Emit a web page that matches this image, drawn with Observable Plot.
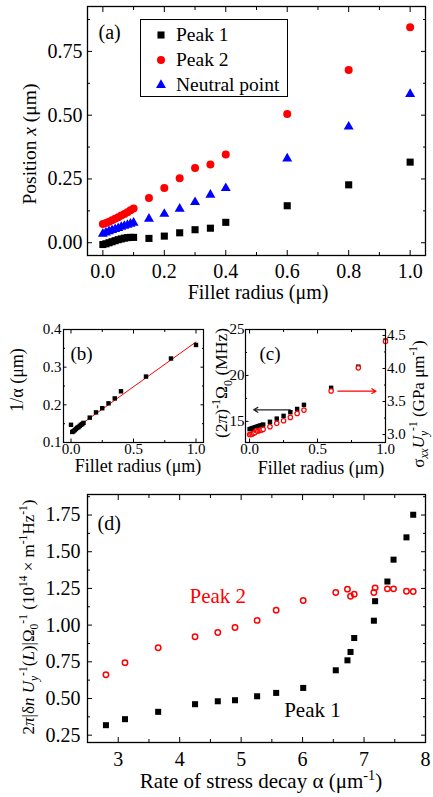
<!DOCTYPE html>
<html><head><meta charset="utf-8">
<script src="https://cdn.jsdelivr.net/npm/d3@7"></script>
<script src="https://cdn.jsdelivr.net/npm/@observablehq/plot@0.6"></script>
<style>
body{margin:0;background:#fff;}
#root{position:relative;width:433px;height:797px;overflow:hidden;font-family:"Liberation Serif","Times New Roman",serif;color:#000;}
.p{position:absolute;}
.lbl{position:absolute;white-space:nowrap;transform:translate(-50%,-50%);line-height:1;}
.rot{transform:translate(-50%,-50%) rotate(-90deg);}
sup,sub{font-size:0.68em;line-height:0;}
.legend{position:absolute;border:1px solid #000;background:#fff;box-sizing:border-box;}
</style></head><body><div id="root"></div>
<script>
// ---------- Panel (a) data ----------
const filletA = [0,0.01,0.02,0.03,0.04,0.05,0.06,0.07,0.08,0.09,0.1,0.15,0.2,0.25,0.3,0.35,0.4,0.6,0.8,1.0];
const peak1A = [-0.007,-0.004,0.000,0.004,0.008,0.012,0.015,0.018,0.020,0.021,0.021,0.017,0.026,0.039,0.051,0.057,0.080,0.145,0.227,0.316];
const peak2A = [0.073,0.077,0.082,0.088,0.094,0.100,0.107,0.113,0.120,0.127,0.134,0.175,0.215,0.253,0.293,0.307,0.346,0.505,0.677,0.845];
const neutralA = [0.035,0.040,0.045,0.049,0.053,0.057,0.062,0.066,0.070,0.074,0.078,0.094,0.113,0.133,0.159,0.188,0.214,0.330,0.455,0.583];
const aXTicks = [0,0.2,0.4,0.6,0.8,1.0], aXMinor = [0.1,0.3,0.5,0.7,0.9];
const aYTicks = [0,0.25,0.5,0.75], aYMinor = [0.125,0.375,0.625,0.875];
const legendA = ["Peak 1","Peak 2","Neutral point"];

// ---------- Panel (b) data ----------
const filletB = filletA;
const invAlphaB = [0.147,0.128,0.130,0.133,0.136,0.139,0.141,0.144,0.147,0.149,0.152,0.166,0.180,0.191,0.204,0.217,0.236,0.275,0.323,0.359];
const fitRadiusB = [0, 1.0], fitValueB = [0.129, 0.367];
const bXTicks = [0,0.5,1.0], bXMinor = [0.25,0.75];
const bYTicks = [0.1,0.2,0.3,0.4], bYMinor = [0.15,0.25,0.35];

// ---------- Panel (c) data ----------
const filletC = filletA;
const freqC = [14.15,14.2,14.25,14.3,14.35,14.4,14.45,14.5,14.55,14.6,14.65,14.95,15.3,15.6,16.0,16.35,16.8,18.65,20.95,23.8];
const stressC = [3.00,3.00,3.01,3.02,3.03,3.06,3.05,3.06,3.07,3.07,3.08,3.12,3.17,3.21,3.26,3.32,3.37,3.66,4.01,4.41];
const cXTicks = [0,0.5,1.0], cXMinor = [0.25,0.75];
const cYTicks = [15,20,25], cYMinor = [17.5,22.5];
const cRTicks = [3.0,3.5,4.0,4.5], cRMinor = [3.25,3.75,4.25];
const arrowFromC = [0.3, 0.65], arrowToC = [0.03, 0.93], arrowLevelC = [16.26, 18.29], arrowColorC = ["#222", "#ff0000"];

// ---------- Panel (d) data ----------
const alphaD = [2.80,3.11,3.65,4.25,4.62,4.90,5.26,5.57,6.01,6.54,6.73,6.78,6.84,7.16,7.18,7.38,7.48,7.69,7.80];
const peak1D = [0.318,0.359,0.409,0.461,0.481,0.488,0.515,0.538,0.572,0.692,0.760,0.817,0.912,1.030,1.163,1.297,1.446,1.598,1.752];
const peak2D = [0.662,0.744,0.846,0.921,0.950,0.984,1.032,1.102,1.168,1.222,1.245,1.197,1.211,1.222,1.254,1.247,1.247,1.231,1.229];
const dXTicks = [3,4,5,6,7,8], dXMinor = [3.5,4.5,5.5,6.5,7.5];
const dYTicks = [0.25,0.5,0.75,1.0,1.25,1.5,1.75], dYMinor = [0.375,0.625,0.875,1.125,1.375,1.625,1.875];
const dAnnot = [{x: 4.62, y: 1.195, t: "Peak 2", c: "#ff0000"}, {x: 6.16, y: 0.418, t: "Peak 1", c: "#000"}];

const RED = "#ff0000", BLUE = "#0000ff";
const root = document.getElementById("root");
const blank = () => "";

function inwardAxes({xTicks, xMinor, yTicks, yMinor, xFmt, yFmt, major, minor, padX, padY, mirrorY = true}) {
  const m = [
    Plot.axisX({anchor: "bottom", ticks: xTicks, tickSize: -major, tickPadding: major + padX, tickFormat: xFmt, label: null}),
    Plot.axisX({anchor: "bottom", ticks: xMinor, tickSize: -minor, tickFormat: blank, label: null}),
    Plot.axisX({anchor: "top", ticks: xTicks, tickSize: -major, tickFormat: blank, label: null}),
    Plot.axisX({anchor: "top", ticks: xMinor, tickSize: -minor, tickFormat: blank, label: null}),
    Plot.axisY({anchor: "left", ticks: yTicks, tickSize: -major, tickPadding: major + padY, tickFormat: yFmt, label: null}),
    Plot.axisY({anchor: "left", ticks: yMinor, tickSize: -minor, tickFormat: blank, label: null})
  ];
  if (mirrorY) m.push(
    Plot.axisY({anchor: "right", ticks: yTicks, tickSize: -major, tickFormat: blank, label: null}),
    Plot.axisY({anchor: "right", ticks: yMinor, tickSize: -minor, tickFormat: blank, label: null})
  );
  return m;
}

function place(svg, left, top) {
  svg.style.position = "absolute";
  svg.style.left = left + "px";
  svg.style.top = top + "px";
  root.appendChild(svg);
}
function label(html, cx, cy, size, rot, color) {
  const d = document.createElement("div");
  d.className = "lbl" + (rot ? " rot" : "");
  d.style.left = cx + "px"; d.style.top = cy + "px";
  d.style.fontSize = size + "px";
  if (color) d.style.color = color;
  d.innerHTML = html;
  root.appendChild(d);
}
const baseStyle = (fs) => ({fontFamily: "'Liberation Serif','Times New Roman',serif", fontSize: fs + "px", background: "transparent", overflow: "visible", color: "#000"});

// ---------- Panel (a) ----------
const dataA = filletA.map((r, i) => ({r, p1: peak1A[i], p2: peak2A[i], n: neutralA[i]}));
const plotA = Plot.plot({
  width: 433, height: 305, marginLeft: 87, marginRight: 8, marginTop: 6, marginBottom: 50,
  style: baseStyle(20),
  x: {domain: [-0.05, 1.05]},
  y: {domain: [-0.05, 0.926]},
  marks: [
    ...inwardAxes({xTicks: aXTicks, xMinor: aXMinor, yTicks: aYTicks, yMinor: aYMinor, xFmt: d3.format(".1f"), yFmt: d3.format(".2f"), major: 5, minor: 3, padX: 8, padY: 5}),
    Plot.dot(dataA, {x: "r", y: "p1", symbol: "square", fill: "#000", r: 4}),
    Plot.dot(dataA, {x: "r", y: "p2", symbol: "circle", fill: RED, r: 4}),
    Plot.dot(dataA, {x: "r", y: "n", symbol: "triangle", fill: BLUE, r: 3.7}),
    Plot.text(["(a)"], {frameAnchor: "top-left", dx: 11, dy: 18, fontSize: 20, textAnchor: "start"}),
    Plot.frame({stroke: "#000", strokeWidth: 1.3})
  ]
});
place(plotA, 0, 0);
label("Position <i>x</i> (μm)", 30, 144, 19.5, true);
label("Fillet radius (μm)", 258, 292, 20);

// legend (a)
const lg = document.createElement("div");
lg.className = "legend";
Object.assign(lg.style, {left: "140px", top: "19px", width: "148px", height: "78px"});
root.appendChild(lg);
const legendSymbols = [[d3.symbolSquare, "#000", 4], [d3.symbolCircle, RED, 4], [d3.symbolTriangle, BLUE, 3.7]];
legendA.forEach((name, i) => {
  const s = d3.create("svg").attr("width", 14).attr("height", 14)
    .style("position", "absolute").style("left", "13px").style("top", (8 + 25 * i) + "px").style("overflow", "visible");
  const [sym, col, r] = legendSymbols[i];
  s.append("path").attr("transform", "translate(7,7)").attr("d", d3.symbol(sym, r * r * Math.PI)()).attr("fill", col);
  lg.appendChild(s.node());
  const t = document.createElement("div");
  Object.assign(t.style, {position: "absolute", left: "35px", top: (15 + 25 * i) + "px", transform: "translateY(-50%)", fontSize: "19.5px", whiteSpace: "nowrap", lineHeight: "1"});
  t.textContent = name;
  lg.appendChild(t);
});

// ---------- Panel (b) ----------
const dataB = filletB.map((r, i) => ({r, v: invAlphaB[i]}));
const fitB = fitRadiusB.map((r, i) => ({r, v: fitValueB[i]}));
const plotB = Plot.plot({
  width: 215, height: 175, marginLeft: 63, marginRight: 12, marginTop: 29, marginBottom: 33,
  style: baseStyle(15),
  x: {domain: [-0.06, 1.06]},
  y: {domain: [0.1, 0.4]},
  marks: [
    ...inwardAxes({xTicks: bXTicks, xMinor: bXMinor, yTicks: bYTicks, yMinor: bYMinor, xFmt: d3.format(".1f"), yFmt: d3.format(".1f"), major: 3.5, minor: 2, padX: 1, padY: 2}),
    Plot.line(fitB, {x: "r", y: "v", stroke: RED, strokeWidth: 1}),
    Plot.dot(dataB, {x: "r", y: "v", symbol: "square", fill: "#000", r: 2.5}),
    Plot.text(["(b)"], {frameAnchor: "top-left", dx: 7, dy: 17, fontSize: 19, textAnchor: "start"}),
    Plot.frame({stroke: "#000", strokeWidth: 1.2})
  ]
});
place(plotB, 0, 300);
label("1/α (μm)", 17, 380, 18, true);
label("Fillet radius (μm)", 138, 466, 18);

// ---------- Panel (c) ----------
const leftDomC = [12.7, 25], rightDomC = [2.88, 4.59];
const toLeft = d3.scaleLinear().domain(rightDomC).range(leftDomC);
const dataC = filletC.map((r, i) => ({r, f: freqC[i], s: stressC[i]}));
const arrowsC = arrowFromC.map((x1, i) => ({x1, x2: arrowToC[i], y: arrowLevelC[i], c: arrowColorC[i]}));
const plotC = Plot.plot({
  width: 218, height: 175, marginLeft: 30, marginRight: 48, marginTop: 29, marginBottom: 33,
  style: baseStyle(15),
  x: {domain: [-0.03, 1.0]},
  y: {domain: leftDomC},
  marks: [
    ...inwardAxes({xTicks: cXTicks, xMinor: cXMinor, yTicks: cYTicks, yMinor: cYMinor, xFmt: d3.format(".1f"), yFmt: d3.format("d"), major: 3.5, minor: 2, padX: 1, padY: 1, mirrorY: false}),
    Plot.axisY({anchor: "right", ticks: cRTicks.map(toLeft), tickSize: -3.5, tickPadding: 5, tickFormat: (d) => d3.format(".1f")(toLeft.invert(d)), label: null}),
    Plot.axisY({anchor: "right", ticks: cRMinor.map(toLeft), tickSize: -2, tickFormat: blank, label: null}),
    Plot.dot(dataC, {x: "r", y: "f", symbol: "square", fill: "#000", r: 2.5}),
    Plot.dot(dataC, {x: "r", y: (d) => toLeft(d.s), symbol: "circle", fill: "#fff", stroke: RED, strokeWidth: 1.2, r: 2.2}),
    Plot.arrow(arrowsC, {x1: "x1", x2: "x2", y1: "y", y2: "y", stroke: "c", strokeWidth: 1.2, headLength: 6}),
    Plot.text(["(c)"], {frameAnchor: "top-left", dx: 14, dy: 17, fontSize: 19, textAnchor: "start"}),
    Plot.frame({stroke: "#000", strokeWidth: 1.2})
  ]
});
place(plotC, 215, 300);
label("(2<i>π</i>)<sup>-1</sup>Ω<sub>0</sub> (MHz)", 222, 383, 17.5, true);
label("σ<sub><i>xx</i></sub><i>U</i><sub><i>y</i></sub><sup>-1</sup> (GPa μm<sup>-1</sup>)", 418, 404, 17, true);
label("Fillet radius (μm)", 321, 468, 18);

// ---------- Panel (d) ----------
const dataD = alphaD.map((a, i) => ({a, p1: peak1D[i], p2: peak2D[i]}));
const plotD = Plot.plot({
  width: 433, height: 317, marginLeft: 87, marginRight: 8, marginTop: 14, marginBottom: 55,
  style: baseStyle(20),
  x: {domain: [2.5, 8]},
  y: {domain: [0.2, 1.89]},
  marks: [
    ...inwardAxes({xTicks: dXTicks, xMinor: dXMinor, yTicks: dYTicks, yMinor: dYMinor, xFmt: d3.format("d"), yFmt: d3.format(".2f"), major: 5, minor: 3, padX: 9, padY: 7}),
    Plot.dot(dataD, {x: "a", y: "p2", symbol: "circle", fill: "none", stroke: RED, strokeWidth: 1.5, r: 2.7}),
    Plot.dot(dataD, {x: "a", y: "p1", symbol: "square", fill: "#000", r: 3.4}),
    Plot.text(dAnnot, {x: "x", y: "y", text: "t", fill: "c", fontSize: 21}),
    Plot.text(["(d)"], {frameAnchor: "top-left", dx: 10, dy: 21, fontSize: 20, textAnchor: "start"}),
    Plot.frame({stroke: "#000", strokeWidth: 1.3})
  ]
});
place(plotD, 0, 480);
label("2<i>π</i>|δ<i>n</i> <i>U</i><sub><i>y</i></sub><sup>-1</sup>(<i>L</i>)|Ω<sub>0</sub><sup>-1</sup> (10<sup>14</sup> × m<sup>-1</sup>Hz<sup>-1</sup>)", 28, 617, 17, true);
label("Rate of stress decay α (μm<sup>-1</sup>)", 261, 781, 21);
</script></body></html>
